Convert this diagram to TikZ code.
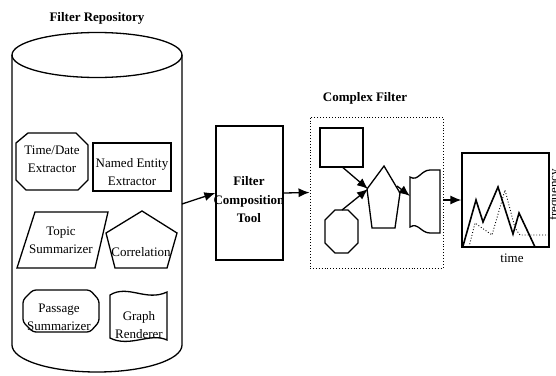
\documentclass[tikz,border=0pt]{standalone}
\usepackage{fontspec}
\setmainfont{Liberation Serif}
\usetikzlibrary{arrows.meta}
\begin{document}
\begin{tikzpicture}[x=1pt,y=-1pt,
  ln/.style={line width=1.3pt, line join=miter},
  arr/.style={line width=1.3pt, -{Latex[length=11pt,width=9pt]}},
  lbl/.style={font=\fontsize{13}{18}\selectfont, align=center, inner sep=0pt},
  blbl/.style={font=\bfseries\fontsize{13}{18.5}\selectfont, align=center, inner sep=0pt}]
\useasboundingbox (0,0) rectangle (556,375);
\fill[white] (0,0) rectangle (556,375);

% Filter repository cylinder
\node[blbl] (reptitle) at (97,18) {Filter Repository};
\draw[ln] (97,55) ellipse[x radius=85pt, y radius=22.5pt];
\draw[ln] (12,55) -- (12,345) arc[start angle=180, end angle=360, x radius=85pt, y radius=27pt] -- (182,55);
\coordinate (cylR) at (182,204);

% inner shapes
\draw[ln] (28,133) -- (76,133) -- (88,145) -- (88,180) -- (78,190) -- (26,190) -- (16,180) -- (16,143) -- cycle;
\node[lbl] (td) at (52,159) {Time/Date\\Extractor};
\draw[ln] (93,143) rectangle (171,191);
\node[lbl] (ne) at (132,172) {Named Entity\\Extractor};
\draw[ln] (35,212) -- (108,212) -- (95,268) -- (17,268) -- cycle;
\node[lbl] (ts) at (61,240) {Topic\\Summarizer};
\draw[ln] (142,211) -- (177,233) -- (167,268) -- (115,268) -- (106,233) -- cycle;
\node[lbl] (co) at (141,252) {Correlation};
\draw[ln, rounded corners=3pt] (33,290) -- (90,290) -- (99,300) -- (99,322) -- (90,332) -- (33,332) -- (23,322) -- (23,300) -- cycle;
\node[lbl] (ps) at (59,317) {Passage\\Summarizer};
\draw[ln] (110,295) .. controls (128,284) and (146,302) .. (167,292) -- (167,340) .. controls (150,332) and (130,348) .. (110,338) -- cycle;
\node[lbl] (gr) at (139,325) {Graph\\Renderer};

% Filter composition tool
\node[draw, ln, minimum width=67pt, minimum height=134pt, inner sep=0pt] (tool) at (249.5,193) {};
\node[blbl] (tooltxt) at (249,200) {Filter\\Composition\\Tool};
\draw[arr] (cylR) -- (tool.west);

% Complex filter
\node[blbl] (cftitle) at (365,98) {Complex Filter};
\node[draw, line width=0.9pt, dotted, minimum width=133pt, minimum height=151pt, inner sep=0pt] (cf) at (376.5,192.5) {};
\draw[arr] (tool.east) -- (cf.west);
\node[draw, ln, minimum width=43pt, minimum height=39pt, inner sep=0pt] (sq) at (341.5,147.5) {};
\draw[ln] (335,210) -- (348,210) -- (358,220) -- (358,243) -- (348,253) -- (335,253) -- (325,243) -- (325,220) -- cycle;
\coordinate (octT) at (342,210);
\draw[ln] (384,166) -- (400,193) -- (395,228) -- (372,228) -- (367,189) -- cycle;
\coordinate (pentL) at (368,189);
\coordinate (pentR) at (397,186);
\draw[ln] (410,177) -- (410,227) .. controls (418,222) and (421,233) .. (430,233) -- (440,233) -- (440,170) -- (430,170) .. controls (421,170) and (418,182) .. (410,177) -- cycle;
\coordinate (tapeL) at (410,196);
\draw[arr] (sq.south) ++(1.5,0) coordinate (sqS) -- (pentL);
\draw[arr] (octT) -- (pentL);
\draw[arr] (pentR) -- (tapeL);

% Chart
\node[draw, ln, minimum width=87pt, minimum height=94pt, inner sep=0pt] (chart) at (505.5,200) {};
\draw[arr] (chart.west -| cf.east) -- (chart.west);
\draw[line width=1.6pt, line join=miter] (463,246) -- (476,200) -- (483,222) -- (498,187) -- (513,234) -- (519,213) -- (535,247);
\draw[line width=0.9pt, dotted] (469,247) -- (475,223) -- (492,235) -- (505,190) -- (515,228) -- (520,235) -- (549,235);
\node[lbl] (timelbl) at (512,258) {time};
\node[lbl, rotate=90] (freq) at (555,195) {frequency};
\end{tikzpicture}
\end{document}
